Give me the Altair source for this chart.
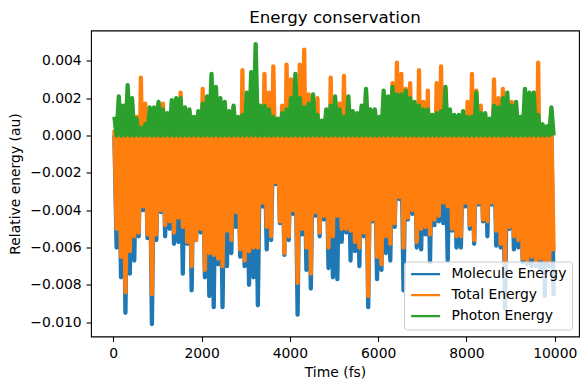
import altair as alt
import pandas as pd

# ---- data (values in units of 1e-3 au), one upper/lower extreme per 100 fs bin
BIN_FS = 100
N_BINS = 100
TIME = [BIN_FS * i + BIN_FS / 2 for i in range(N_BINS)]  # bin centres (fs)

SERIES = ["Molecule Energy", "Total Energy", "Photon Energy"]
COLORS = ["#1f77b4", "#ff7f0e", "#2ca02c"]

PHOTON_HIGH = [
    1.0, 2.1, 1.6, 2.7, 2.0, 0.9, 0.4, 0.6, 1.5, 1.5,
    1.8, 1.4, 1.2, 1.9, 2.0, 2.0, 1.5, 1.4, 1.0, 1.3,
    1.7, 2.1, 3.3, 2.6, 2.0, 1.8, 1.3, 1.6, 1.0, 1.1,
    2.3, 3.4, 4.9, 1.6, 1.6, 1.4, 1.0, 0.9, 1.2, 1.4,
    2.0, 3.3, 2.0, 1.5, 1.7, 2.2, 1.1, 0.8, 1.4, 1.6,
    2.1, 1.4, 1.0, 2.1, 1.3, 1.2, 1.6, 2.5, 1.4, 1.4,
    1.0, 2.4, 2.1, 2.6, 2.2, 2.2, 2.4, 2.0, 1.8, 1.6,
    1.4, 1.4, 1.1, 1.2, 1.3, 2.6, 1.4, 1.1, 1.1, 1.3,
    1.0, 1.0, 2.3, 1.2, 1.2, 0.9, 1.6, 1.5, 2.0, 2.3,
    1.6, 1.8, 1.0, 2.5, 2.3, 2.3, 1.1, 0.6, 0.5, 1.5,
]
PHOTON_LOW = 0.0

TOTAL_HIGH = [
    0.3, 0.5, 0.4, 0.3, 0.3, 1.0, 3.1, 1.7, 0.3, 1.2,
    1.7, 1.7, 0.3, 0.3, 0.3, 2.3, 0.5, 0.8, 0.5, 0.4,
    2.5, 0.5, 0.3, 0.4, 0.4, 0.5, 0.3, 1.5, 0.5, 3.5,
    1.5, 0.8, 1.0, 0.7, 3.3, 2.3, 3.7, 0.6, 1.6, 3.8,
    3.0, 0.8, 3.8, 4.6, 2.2, 1.9, 2.0, 0.4, 0.6, 3.1,
    1.8, 1.7, 3.2, 0.5, 0.5, 0.3, 0.5, 2.2, 0.5, 0.4,
    0.5, 0.5, 0.5, 2.8, 3.9, 3.3, 2.5, 2.8, 1.6, 3.5,
    1.8, 2.4, 0.6, 2.8, 3.7, 2.5, 0.8, 0.5, 0.5, 0.8,
    1.8, 3.3, 2.4, 1.6, 0.8, 0.6, 3.0, 2.0, 2.5, 1.8,
    1.8, 1.5, 0.7, 1.5, 2.0, 2.3, 3.9, 0.4, 0.4, 0.5,
]
TOTAL_LOW = [
    -5.0, -6.5, -8.4, -6.2, -5.4, -5.2, -3.8, -5.3, -8.5, -5.3,
    -4.0, -4.8, -4.6, -5.2, -4.4, -4.9, -5.7, -7.0, -5.6, -5.0,
    -7.2, -6.3, -6.4, -6.6, -7.0, -5.1, -5.6, -4.1, -6.1, -6.7,
    -6.2, -6.0, -6.0, -3.6, -4.9, -5.4, -2.5, -4.6, -6.3, -5.4,
    -4.0, -7.9, -5.0, -6.0, -7.4, -4.1, -5.2, -4.3, -6.0, -5.4,
    -4.3, -5.0, -5.0, -5.1, -5.7, -6.0, -5.2, -8.6, -4.5, -6.5,
    -6.9, -5.4, -5.8, -4.7, -3.3, -6.0, -4.4, -4.0, -5.7, -5.0,
    -4.9, -5.3, -4.5, -4.3, -3.6, -3.8, -5.0, -5.4, -5.4, -3.6,
    -4.8, -5.6, -3.6, -4.5, -4.6, -3.6, -5.1, -5.8, -6.8, -4.9,
    -5.4, -5.6, -6.6, -6.7, -6.5, -6.8, -6.6, -6.7, -6.8, -6.2,
]

MOLECULE_HIGH = 0.0
MOLECULE_LOW = [
    -6.0, -7.6, -9.5, -7.4, -6.7, -5.4, -4.0, -5.5, -10.1, -5.6,
    -4.1, -5.4, -5.0, -5.8, -5.7, -7.4, -5.8, -8.3, -5.6, -5.2,
    -7.6, -8.6, -9.2, -6.9, -9.2, -7.0, -6.3, -4.9, -6.5, -7.0,
    -8.0, -7.6, -9.1, -3.8, -6.1, -5.6, -2.6, -4.7, -6.4, -5.6,
    -4.2, -9.6, -5.3, -7.2, -8.2, -4.3, -5.4, -4.5, -7.1, -7.6,
    -7.7, -5.7, -5.2, -6.7, -6.2, -7.0, -5.4, -9.2, -4.6, -7.7,
    -7.2, -6.3, -6.7, -4.9, -3.4, -8.3, -4.5, -4.2, -6.0, -6.1,
    -5.3, -6.8, -4.8, -4.6, -4.7, -6.7, -5.1, -6.0, -6.0, -3.8,
    -5.0, -5.8, -3.7, -4.6, -5.4, -3.7, -5.9, -6.0, -9.3, -5.0,
    -6.1, -6.0, -6.8, -6.9, -7.0, -7.0, -7.2, -8.6, -7.0, -8.6,
]

X_TICKS = [0, 2000, 4000, 6000, 8000, 10000]
Y_TICKS = [-0.010, -0.008, -0.006, -0.004, -0.002, 0.000, 0.002, 0.004]

UNIT = 1e-3


def oscillation(series, highs, lows):
    """Alternate each bin's upper and lower extreme, as the dense signal does."""
    rows = []
    for i, t in enumerate(TIME):
        rows.append({"t": t - BIN_FS / 4, "v": highs[i] * UNIT,
                     "series": series, "seq": 2 * i})
        rows.append({"t": t + BIN_FS / 4, "v": lows[i] * UNIT,
                     "series": series, "seq": 2 * i + 1})
    return pd.DataFrame(rows)


frames = [
    oscillation(SERIES[0], [MOLECULE_HIGH] * N_BINS, MOLECULE_LOW),
    oscillation(SERIES[1], TOTAL_HIGH, TOTAL_LOW),
    oscillation(SERIES[2], PHOTON_HIGH, [PHOTON_LOW] * N_BINS),
]

FONT = "DejaVu Sans"

x_enc = alt.X("t:Q",
              scale=alt.Scale(domain=[-505, 10550], nice=False, zero=False),
              axis=alt.Axis(values=X_TICKS, format="d", title="Time (fs)",
                            titlePadding=5))
y_enc = alt.Y("v:Q",
              scale=alt.Scale(domain=[-0.01077, 0.005626], nice=False, zero=False),
              axis=alt.Axis(values=Y_TICKS, format=".3f",
                            title="Relative energy (au)", titlePadding=7))
c_enc = alt.Color("series:N",
                  scale=alt.Scale(domain=SERIES, range=COLORS),
                  legend=alt.Legend(title=None, orient="bottom-right", offset=7,
                                    symbolType="stroke", symbolSize=841,
                                    symbolStrokeWidth=2.1, clipHeight=14))

layers = [
    alt.Chart(f)
    .mark_line(strokeJoin="round")
    .encode(x=x_enc, y=y_enc, color=c_enc, order=alt.Order("seq:Q"),
            strokeWidth=alt.value(4.3))
    for f in frames
]

chart = (
    alt.layer(*layers)
    .properties(
        width=488,
        height=306,
        title=alt.TitleParams("Energy conservation", anchor="middle", frame="group",
                              baseline="bottom", offset=4, dy=17),
        autosize=alt.AutoSizeParams(type="none"),
        padding={"left": 83, "top": 22.5, "right": 1, "bottom": 45},
    )
    .configure_view(stroke="black", strokeWidth=1.1)
    .configure_axis(grid=False, domain=False, tickColor="black", tickWidth=1.1,
                    tickSize=4.9, labelFont=FONT, labelFontSize=13.9,
                    labelColor="black", labelPadding=4.9, titleFont=FONT,
                    titleFontSize=13.9, titleFontWeight="normal", titleColor="black")
    .configure_title(font=FONT, fontSize=16.7, fontWeight="normal", color="black")
    .configure_legend(labelFont=FONT, labelFontSize=13.9, labelColor="black",
                      fillColor="rgba(255,255,255,0.8)", strokeColor="#cccccc",
                      cornerRadius=3, padding=5.6, rowPadding=7, labelOffset=10)
)

chart.save("out.html", embed_options={"renderer": "svg", "actions": False})
